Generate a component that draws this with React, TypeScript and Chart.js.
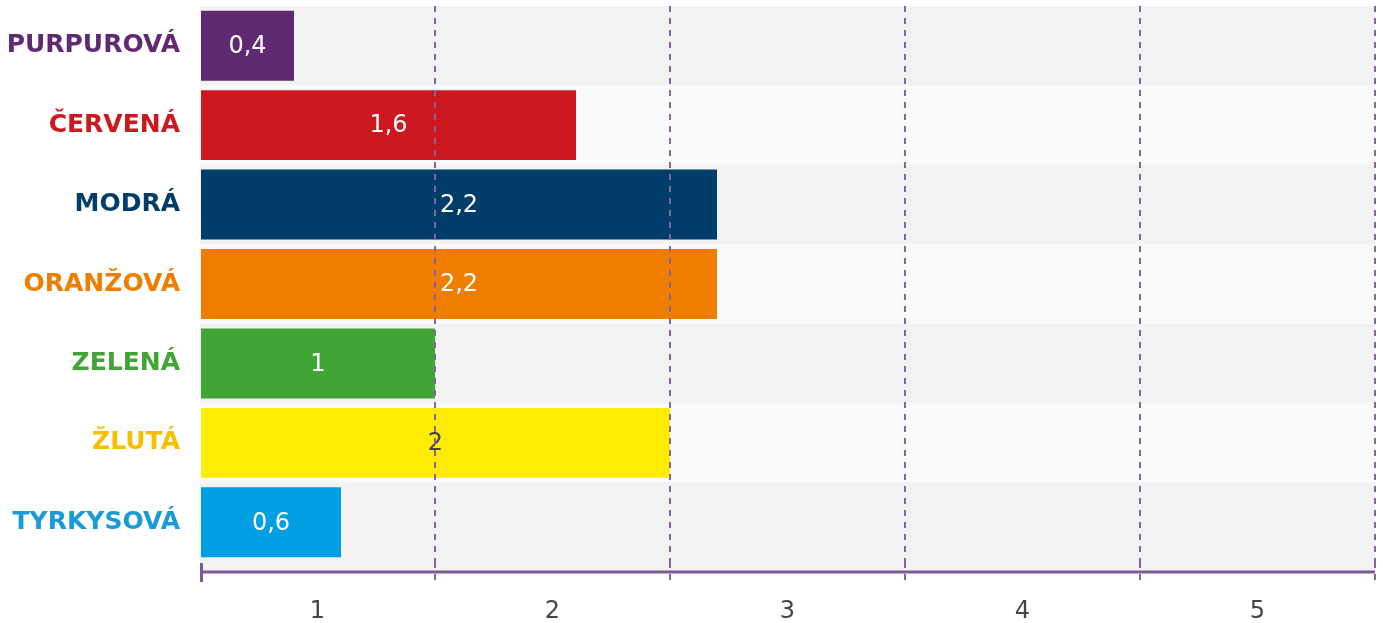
import React, { useEffect, useRef } from 'react';
import { Chart, registerables } from 'chart.js';

Chart.register(...registerables);

const categories = ['PURPUROVÁ', 'ČERVENÁ', 'MODRÁ', 'ORANŽOVÁ', 'ZELENÁ', 'ŽLUTÁ', 'TYRKYSOVÁ'];
const values = [0.4, 1.6, 2.2, 2.2, 1, 2, 0.6];
const barColors = ['#5f2a72', '#cc181e', '#003d6b', '#ef7d00', '#40a535', '#ffec00', '#009fe3'];
const labelColors = ['#5f2a72', '#cc181e', '#003d6b', '#ef7d00', '#40a535', '#f6c000', '#1a9bd7'];
const valueLabelColors = ['#ffffff', '#ffffff', '#ffffff', '#ffffff', '#ffffff', '#444444', '#ffffff'];
const xTickLabels = ['1', '2', '3', '4', '5'];

const FONT = "'DejaVu Sans', Verdana, sans-serif";
const AXIS_COLOR = '#7d5a93';
const GRID_COLOR = '#85659c';

const decorPlugin = {
  id: 'decor',
  beforeDraw(chart: any) {
    const { ctx, chartArea: ca, scales } = chart;
    const y = scales.y;
    ctx.save();
    ctx.fillStyle = '#f2f2f2';
    ctx.fillRect(ca.left, ca.top, ca.right - ca.left, ca.bottom + 10 - ca.top);
    const n = categories.length;
    const pitch = (ca.bottom - ca.top) / n;
    ctx.fillStyle = '#fafafa';
    for (let i = 1; i < n; i += 2) {
      const c = y.getPixelForValue(i);
      ctx.fillRect(ca.left, c - pitch / 2, ca.right - ca.left, pitch);
    }
    ctx.restore();
  },
  afterDatasetsDraw(chart: any) {
    const { ctx } = chart;
    const meta = chart.getDatasetMeta(0);
    ctx.save();
    ctx.font = `24px ${FONT}`;
    ctx.textAlign = 'center';
    ctx.textBaseline = 'middle';
    meta.data.forEach((bar: any, i: number) => {
      const p = bar.getProps(['x', 'y', 'base'], true);
      ctx.fillStyle = valueLabelColors[i];
      ctx.fillText(String(values[i]).replace('.', ','), (p.x + p.base) / 2, p.y + 1);
    });
    ctx.restore();
  },
  afterDraw(chart: any) {
    const { ctx, chartArea: ca } = chart;
    const x = chart.scales.x;
    const ly = ca.bottom + 10;
    ctx.save();
    ctx.strokeStyle = AXIS_COLOR;
    ctx.lineWidth = 3;
    ctx.beginPath();
    ctx.moveTo(x.left, ly);
    ctx.lineTo(x.right, ly);
    ctx.stroke();
    ctx.beginPath();
    ctx.moveTo(x.left + 1.5, ca.bottom + 1);
    ctx.lineTo(x.left + 1.5, ca.bottom + 20);
    ctx.stroke();
    ctx.restore();
  },
};

export default function App() {
  const ref = useRef<HTMLCanvasElement>(null);
  useEffect(() => {
    if (!ref.current) return;
    const chart = new Chart(ref.current, {
      type: 'bar',
      data: {
        labels: categories,
        datasets: [
          {
            data: values,
            backgroundColor: barColors,
            borderWidth: 0,
            categoryPercentage: 1,
            barPercentage: 0.88,
          },
        ],
      },
      options: {
        indexAxis: 'y',
        animation: false,
        responsive: false,
        maintainAspectRatio: false,
        layout: { padding: { top: 6, right: 8, bottom: 0, left: 0 } },
        plugins: { legend: { display: false }, tooltip: { enabled: false } },
        scales: {
          x: {
            type: 'linear',
            min: 0,
            max: 5,
            afterFit: (s: any) => {
              s.height = 61;
              s.paddingLeft = 0;
              s.paddingRight = 0;
            },
            border: { display: false, dash: [6, 6] },
            grid: {
              color: (c: any) => {
                const v = c.tick ? c.tick.value : -1;
                return v > 0 && Math.abs(v - Math.round(v)) < 1e-6 ? GRID_COLOR : 'rgba(0,0,0,0)';
              },
              lineWidth: 2,
              tickLength: 20,
              tickBorderDash: [6, 6],
              z: 1,
            },
            ticks: {
              stepSize: 0.5,
              autoSkip: false,
              maxRotation: 0,
              padding: 15,
              color: '#444444',
              font: { family: FONT, size: 24 },
              callback: (value: any) => {
                const v = Number(value);
                const f = v - Math.floor(v);
                if (Math.abs(f - 0.5) < 1e-6) return xTickLabels[Math.floor(v)];
                return '';
              },
            },
          },
          y: {
            type: 'category',
            afterFit: (s: any) => {
              s.width = 200;
              s.paddingTop = 0;
              s.paddingBottom = 0;
            },
            grid: { display: false, drawTicks: false },
            border: { display: false },
            ticks: {
              padding: 20,
              color: (c: any) => labelColors[c.index],
              font: { family: FONT, size: 25, weight: 'bold' },
            },
          },
        },
      },
      plugins: [decorPlugin],
    } as any);
    return () => chart.destroy();
  }, []);
  return (
    <div style={{ position: 'absolute', left: 0, top: 0, width: 1383, height: 623, background: '#fff' }}>
      <canvas ref={ref} width={1383} height={623} style={{ display: 'block' }} />
    </div>
  );
}
